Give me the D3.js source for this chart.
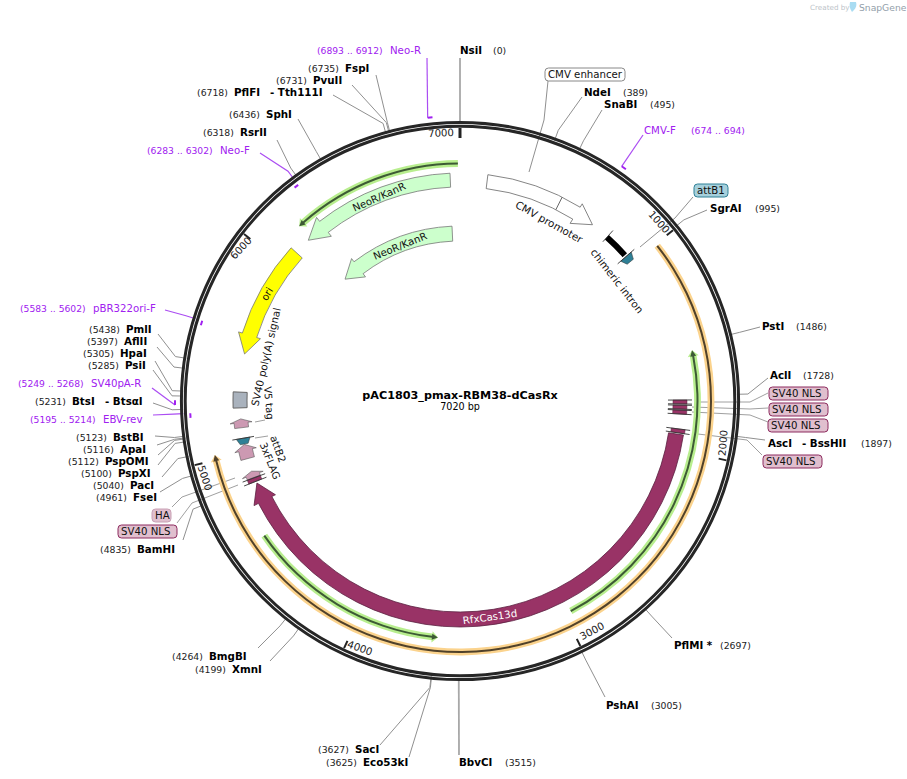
<!DOCTYPE html>
<html>
<head>
<meta charset="utf-8">
<script src="https://d3js.org/d3.v7.min.js"></script>
<style>
  body { margin: 0; background: #fff; }
  text { font-family: "DejaVu Sans", sans-serif; }
</style>
</head>
<body>
<div id="map"></div>
<script>
// plasmid values
var plasmidName = "pAC1803_pmax-RBM38-dCasRx";
var plasmidLength = 7020;
var tickValues = [1000, 2000, 3000, 4000, 5000, 6000, 7000];

// enzyme name, cut position
var enzymes = [
  ["NsiI", 0], ["NdeI", 389], ["SnaBI", 495], ["SgrAI", 995], ["PstI", 1486],
  ["AclI", 1728], ["AscI", 1897], ["PflMI *", 2697], ["PshAI", 3005], ["BbvCI", 3515],
  ["Eco53kI", 3625], ["SacI", 3627], ["XmnI", 4199], ["BmgBI", 4264], ["BamHI", 4835],
  ["FseI", 4961], ["PacI", 5040], ["PspXI", 5100], ["PspOMI", 5112], ["ApaI", 5116],
  ["BstBI", 5123], ["BtsI", 5231], ["PsiI", 5285], ["HpaI", 5305], ["AflII", 5397],
  ["PmlI", 5438], ["RsrII", 6318], ["SphI", 6436], ["PflFI", 6718], ["PvuII", 6731],
  ["FspI", 6735]
];
// second enzyme cutting at the same place
var enzymePartners = { AscI: "- BssHII", BtsI: "- BtsαI", PflFI: "- Tth111I" };

// primer name, start, end
var primers = [
  ["Neo-R", 6893, 6912], ["CMV-F", 674, 694], ["Neo-F", 6283, 6302],
  ["pBR322ori-F", 5583, 5602], ["SV40pA-R", 5249, 5268], ["EBV-rev", 5195, 5214]
];

// thin arrows: tail, tip
var orfOrange = [[1010, 5023]];
var orfGreen = [[2968, 1515], [4592, 3614], [7010, 6189]];

// block arrows: name, tail, tip
var neoOuter = ["NeoR/KanR", 6971, 6175];
var neoInner = ["NeoR/KanR", 6969, 6175];
var oriArrow = ["ori", 6088, 5505];
var promoterArrow = ["CMV promoter", 137, 720];
var cas13Arrow = ["RfxCas13d", 1924, 4836];
// name, tail, head base, tip
var smallArrows = [["V5 tag", 5129, 5154, 5174], ["3xFLAG", 4969, 5013, 5043], ["HA", 4868, 4882, 4902]];
var nlsBlocks = [1760, 1786, 1811, 1907, 4856];
var polyABlock = [5230, 5310];
var intronBlock = [817, 946];
var promoterSplit = 519;
// capped end, far end
var attBlocks = [[955, 989], [5075, 5045]];

// ----- layout of the labels, kept away from the values
var W = 907, H = 779, cx = 460, cy = 401;
// nameX, y, posX, leader end x, leader end y
var enzymeLayout = {
  "NsiI": [460, 50, 493, 460, 58], "NdeI": [584, 92, 623, 582, 97], "SnaBI": [604, 104, 650, 602, 110],
  "SgrAI": [710, 208, 755, 707, 210], "PstI": [762, 326, 796, 760, 327], "AclI": [770, 375, 803, 768, 378],
  "AscI": [768, 443, 861, 765, 440], "PflMI *": [674, 645, 720, 672, 638], "PshAI": [606, 705, 651, 605, 697],
  "BbvCI": [459, 762, 505, 459, 755], "Eco53kI": [363, 762, 326, 409, 757], "SacI": [355, 749, 318, 380, 745],
  "XmnI": [232, 669, 195, 270, 661], "BmgBI": [209, 656, 172, 258, 648], "BamHI": [137, 549, 100, 183, 540],
  "FseI": [133, 497, 96, 160, 492], "PacI": [130, 485, 93, 162, 477], "PspXI": [118, 473, 81, 158, 465],
  "PspOMI": [105, 461, 68, 158, 455], "ApaI": [120, 449, 83, 157, 445], "BstBI": [113, 437, 76, 155, 436],
  "BtsI": [72, 401, 35, 153, 403], "PsiI": [125, 365, 88, 153, 370], "HpaI": [120, 353, 83, 155, 361],
  "AflII": [124, 341, 87, 157, 347], "PmlI": [126, 329, 89, 158, 334], "RsrII": [240, 132, 203, 277, 140],
  "SphI": [266, 114, 229, 298, 119], "PflFI": [234, 92, 197, 333, 95], "PvuII": [313, 80, 276, 352, 85],
  "FspI": [345, 68, 308, 376, 75]
};
var partnerX = { AscI: 802, BtsI: 105, PflFI: 270 };
// nameX, y, posX, outside ring?, leader end x, leader end y
var primerLayout = {
  "Neo-R": [390, 50, 317, true, 427, 58], "CMV-F": [644, 130, 691, true, 643, 135],
  "Neo-F": [220, 150, 147, false, 260, 153], "pBR322ori-F": [93, 308, 20, false, 165, 310],
  "SV40pA-R": [91, 383, 18, true, 152, 388], "EBV-rev": [103, 419, 30, false, 153, 415]
};

var svg = d3.select("#map").append("svg").attr("width", W).attr("height", H)
  .style("display", "block");

var angle = d3.scaleLinear().domain([0, plasmidLength]).range([0, 2 * Math.PI]);

function polar(r, bp) {
  var a = angle(bp);
  return [cx + r * Math.sin(a), cy - r * Math.cos(a)];
}

// ring segment with an arrow head, running from tail towards tip
function arrowPath(tail, base, tip, rIn, rOut, headIn, headOut) {
  var p = d3.path();
  var back = base < tail;
  var a0 = angle(tail) - Math.PI / 2, a1 = angle(base) - Math.PI / 2;
  var o0 = polar(rOut, tail);
  p.moveTo(o0[0], o0[1]);
  p.arc(cx, cy, rOut, a0, a1, back);
  var pts = [polar(headOut, base), polar((headIn + headOut) / 2, tip), polar(headIn, base)];
  pts.forEach(function(q) { p.lineTo(q[0], q[1]); });
  p.arc(cx, cy, rIn, a1, a0, !back);
  p.closePath();
  return p.toString();
}

function blockPath(from, to, rIn, rOut) {
  var p = d3.path();
  var a0 = angle(from) - Math.PI / 2, a1 = angle(to) - Math.PI / 2;
  p.arc(cx, cy, rOut, a0, a1, false);
  p.arc(cx, cy, rIn, a1, a0, true);
  p.closePath();
  return p.toString();
}

function headBase(tail, tip, size) {
  return tip > tail ? tip - size : tip + size;
}

function leader(points, color, width) {
  svg.append("path")
    .attr("d", d3.line()(points))
    .attr("fill", "none")
    .attr("stroke", color || "#909090")
    .attr("stroke-width", width || 1);
}

function label(x, y, str, size, opts) {
  opts = opts || {};
  var t = svg.append("text")
    .attr("x", x).attr("y", y)
    .attr("font-size", size)
    .attr("dy", "0.35em")
    .attr("fill", opts.fill || "#000")
    .attr("font-weight", opts.bold ? "bold" : "normal")
    .attr("text-anchor", opts.anchor || "start")
    .text(str);
  if (opts.rot !== undefined) {
    t.attr("transform", "rotate(" + opts.rot + "," + x + "," + y + ")");
  }
  return t;
}

function tagBox(x0, y0, x1, y1, str, fill, stroke, color) {
  svg.append("rect")
    .attr("x", x0).attr("y", y0).attr("width", x1 - x0).attr("height", y1 - y0)
    .attr("rx", 3.5).attr("fill", fill).attr("stroke", stroke).attr("stroke-width", 1);
  label(x0 + 3, (y0 + y1) / 2, str, 10.2, { fill: color || "#111" });
}

// logo
label(810, 7.5, "Created by", 7.2, { fill: "#bcc3c9" });
svg.append("path").attr("d", "M850,2h6c1,3,0,6,-2,8l-2,2c-2,-3,-3,-6,-2,-10z").attr("fill", "#a8dcf2");
label(859, 7.5, "SnapGene", 9.2, { fill: "#93a0aa" });

// ----- leaders first so the ring sits on top
enzymes.forEach(function(e) {
  var lay = enzymeLayout[e[0]];
  var start = polar(277, e[1]);
  var elbow = polar(288, e[1]);
  var thick = e[0] === "NsiI" || e[0] === "BbvCI";
  leader(thick ? [start, [lay[3], lay[4]]] : [start, elbow, [lay[3], lay[4]]],
    thick ? "#a8a8a8" : "#909090", thick ? 1.8 : 1);
});

// feature tag leaders
leader([[693, 197], [675, 218], [640, 247]]);
leader([[548, 81], [544, 120], [529, 172]]);
leader([[700, 402], [750, 402], [768, 393]], "#a0a0a0");
leader([[692, 407], [750, 409], [768, 408]], "#a0a0a0");
leader([[692, 412], [750, 415], [768, 422]], "#a0a0a0");
leader([[698, 434], [747, 440], [762, 455]], "#a0a0a0");
leader([[235, 478], [182, 497], [172, 507]], "#a0a0a0");
leader([[238, 485], [192, 503], [177, 523]], "#a0a0a0");
leader([[255, 422], [265, 420]], "#a0a0a0");
leader([[255, 438], [268, 436]], "#a0a0a0");

// primer leaders, the ring covers their inner part
primers.forEach(function(p) {
  var lay = primerLayout[p[0]];
  var from = [lay[4], lay[5]];
  if (lay[3]) {
    leader([from, polar(285, p[1])], "#ab4df2", 1.2);
  } else {
    leader([from, polar(287, p[2]), polar(277, p[2])], "#ab4df2", 1.2);
  }
});

// ----- backbone
[[278.6, 3], [274.8, 3]].forEach(function(ring) {
  svg.append("circle").attr("cx", cx).attr("cy", cy).attr("r", ring[0])
    .attr("fill", "none").attr("stroke", "#262626").attr("stroke-width", ring[1]);
});

// ticks
var tickLabelSpot = {
  1000: [659, 222, 48], 2000: [723, 443, -85], 3000: [592, 631, -28], 4000: [360, 648, 20],
  5000: [205, 478, 72], 6000: [241, 248, -47], 7000: [441, 133, -2]
};
tickValues.forEach(function(v) {
  var bp = v === 7000 ? 0 : v;
  var a = polar(273, bp), b = polar(v === 7000 ? 263 : 265, bp);
  svg.append("line").attr("x1", a[0]).attr("y1", a[1]).attr("x2", b[0]).attr("y2", b[1])
    .attr("stroke", "#222").attr("stroke-width", v === 7000 ? 3 : 2);
  var s = tickLabelSpot[v];
  label(s[0], s[1], d3.format("d")(v), 10.2, { anchor: "middle", rot: s[2], fill: "#222" });
});

// ----- thin orf arrows
function orfArrow(d, r, halo, core) {
  var base = headBase(d[0], d[1], 28);
  svg.append("path").attr("d", arrowPath(d[0], base, d[1], r - 3.4, r + 3.4, r - 5.6, r + 5.6)).attr("fill", halo);
  svg.append("path").attr("d", arrowPath(d[0], base, d[1], r - 1, r + 1, r - 3, r + 3)).attr("fill", core);
}
orfOrange.forEach(function(d) { orfArrow(d, 251, "#fbd38d", "#50412a"); });
orfGreen.forEach(function(d) { orfArrow(d, 237.5, "#b8ee8e", "#3d5a35"); });

// ----- block arrows
function blockArrow(d, rIn, rOut, headIn, headOut, headSize, fill, stroke) {
  var base = headBase(d[1], d[2], headSize);
  svg.append("path")
    .attr("d", arrowPath(d[1], base, d[2], rIn, rOut, headIn, headOut))
    .attr("fill", fill).attr("stroke", stroke).attr("stroke-width", 0.8);
}
blockArrow(neoOuter, 214, 228, 209, 233, 104, "#ccffcc", "#777");
blockArrow(neoInner, 160, 175, 156, 179, 118, "#ccffcc", "#777");
blockArrow(oriArrow, 213, 228, 209, 232, 98, "#ffff00", "#777");
blockArrow(promoterArrow, 214, 228, 209, 232, 100, "#ffffff", "#666");
blockArrow(cas13Arrow, 211, 226, 207, 231, 96, "#993366", "#5a2040");
leader([polar(214, promoterSplit), polar(228, promoterSplit)], "#666", 1);

smallArrows.forEach(function(d) {
  svg.append("path")
    .attr("d", arrowPath(d[1], d[2], d[3], 213, 227, 209, 231))
    .attr("fill", "#cc99b2").attr("stroke", "#555").attr("stroke-width", 0.6);
});

// cap at the end of small blocks
function cap(bp, rIn, rOut) {
  leader([polar(rIn, bp), polar(rOut, bp)], "#333", 0.9);
}
nlsBlocks.forEach(function(bp) {
  svg.append("path").attr("d", blockPath(bp - 10, bp + 10, 213, 227))
    .attr("fill", "#993366").attr("stroke", "#5a2040").attr("stroke-width", 0.5);
  cap(bp - 10, 208, 232);
  cap(bp + 10, 208, 232);
});
svg.append("path").attr("d", blockPath(polyABlock[0], polyABlock[1], 213, 227))
  .attr("fill", "#a9b2bd").attr("stroke", "#666").attr("stroke-width", 1);

// chimeric intron
svg.append("path").attr("d", blockPath(intronBlock[0], intronBlock[1], 217, 223)).attr("fill", "#000");
cap(intronBlock[0], 214, 229);

// att sites: a leaf shape behind one cap
attBlocks.forEach(function(d) {
  var leaf = [polar(213, d[0]), polar(227, d[0]), polar(224, d[1]), polar(216, d[1])];
  svg.append("path").attr("d", d3.line().curve(d3.curveLinearClosed)(leaf))
    .attr("fill", "#2f8096").attr("stroke", "#333").attr("stroke-width", 0.5);
  cap(d[0], 209, 231);
});

// feature names
label(379, 197, neoOuter[0], 10.2, { anchor: "middle", rot: -24, fill: "#111" });
label(400, 246, neoInner[0], 10.2, { anchor: "middle", rot: -22, fill: "#111" });
label(267, 294, oriArrow[0], 10.2, { anchor: "middle", rot: -59, fill: "#111" });
label(549, 222, promoterArrow[0], 10.4, { anchor: "middle", rot: 29, fill: "#111" });
label(617, 281, "chimeric intron", 10.4, { anchor: "middle", rot: 52, fill: "#111" });
label(490, 617, cas13Arrow[0], 10.2, { anchor: "middle", rot: -8, fill: "#fff" });
label(266, 357, "SV40 poly(A) signal", 10.3, { anchor: "middle", rot: -77, fill: "#111" });
label(269, 403, smallArrows[0][0], 10.2, { anchor: "middle", rot: 85, fill: "#111" });
label(278, 449, "attB2", 10.2, { anchor: "middle", rot: 70, fill: "#111" });
label(270, 461, smallArrows[1][0], 10.2, { anchor: "middle", rot: 68, fill: "#111" });

// tags
tagBox(545, 68, 625, 81, "CMV enhancer", "#fff", "#888");
tagBox(694, 184, 728, 197, "attB1", "#a6d0dc", "#2f8096");
[[769, 387, 828, 400], [769, 403, 828, 416], [768, 419, 828, 432], [763, 455, 822, 468], [118, 525, 177, 538]]
  .forEach(function(b) { tagBox(b[0], b[1], b[2], b[3], "SV40 NLS", "#e0bfce", "#8c2a5e"); });
tagBox(152, 509, 171, 522, "HA", "#e0bfce", "#c8a0b4");

// enzyme labels
enzymes.forEach(function(e) {
  var lay = enzymeLayout[e[0]];
  label(lay[0], lay[1], e[0], 10.3, { bold: true });
  label(lay[2], lay[1] + 0.5, "(" + e[1] + ")", 9.3, { fill: "#222" });
  if (enzymePartners[e[0]]) {
    label(partnerX[e[0]], lay[1], enzymePartners[e[0]], 10.3, { bold: true });
  }
});

// primers: short mark outside or inside the ring
primers.forEach(function(p) {
  var lay = primerLayout[p[0]];
  var r = lay[3] ? 285 : 270;
  svg.append("path").attr("d", d3.line()([polar(r, p[1]), polar(r, p[2])]))
    .attr("stroke", "#a020f0").attr("stroke-width", 2).attr("fill", "none");
  label(lay[0], lay[1], p[0], 10.2, { fill: "#a020f0" });
  label(lay[2], lay[1] + 0.5, "(" + p[1] + " .. " + p[2] + ")", 9.2, { fill: "#a020f0" });
});

// centre
label(cx, 395, plasmidName, 11.2, { bold: true, anchor: "middle" });
label(cx, 407, plasmidLength + " bp", 9.6, { anchor: "middle" });
</script>
</body>
</html>
